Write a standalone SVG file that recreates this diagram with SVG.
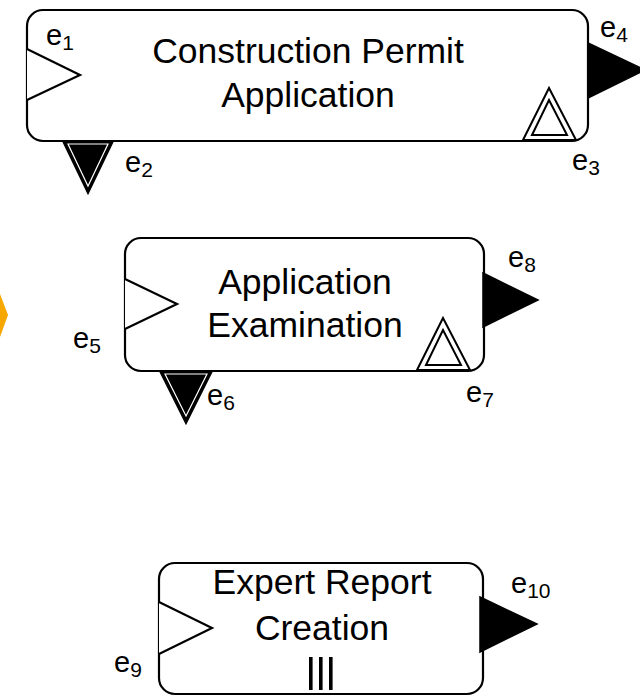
<svg xmlns="http://www.w3.org/2000/svg" width="640" height="697" viewBox="0 0 640 697">
  <style>
    .task { fill: #ffffff; stroke: #000000; stroke-width: 2.2; }
    .title { font-family: "Liberation Sans", Arial, sans-serif; font-size: 35.5px; fill: #000000; text-anchor: middle; }
    .lbl { font-family: "Liberation Sans", Arial, sans-serif; font-size: 29px; fill: #000000; }
    .sub { font-size: 21px; }
    .start { fill: #ffffff; stroke: #000000; stroke-width: 2.2; stroke-linejoin: miter; }
    .end { fill: #000000; stroke: #000000; stroke-width: 1.5; }
    .throw { fill: #000000; stroke: #000000; stroke-width: 2; }
    .throwIn { fill: #000000; stroke: #ffffff; stroke-width: 1.2; }
    .catch { fill: #ffffff; stroke: #000000; stroke-width: 2; }
    .gate { fill: #f6a700; }
  </style>

  <!-- partially visible gateway on the left edge -->
  <g id="gateway">
    <polygon class="gate" points="-20,294 0,294 8,315 0,337 -20,337"/>
  </g>

  <g id="connectors"></g>

  <!-- Construction Permit Application -->
  <g id="task1">
    <rect class="task" x="27" y="10" width="561" height="131" rx="16" ry="16"/>
    <text class="title" x="308" y="63">Construction Permit</text>
    <text class="title" x="308" y="107">Application</text>
    <g id="e1">
      <polyline class="start" points="27,49 80,75 27,100"/>
      <text class="lbl" x="46" y="45">e<tspan class="sub" dy="5">1</tspan></text>
    </g>
    <g id="e2">
      <polygon class="throw" points="63,141 113,141 88,193"/>
      <polygon class="throwIn" points="68,144 108,144 88,186"/>
      <text class="lbl" x="125" y="172">e<tspan class="sub" dy="5">2</tspan></text>
    </g>
    <g id="e3">
      <polygon class="catch" points="523,140 576,140 549,88"/>
      <polygon class="catch" points="532,135 567,135 549,100"/>
      <text class="lbl" x="572" y="170">e<tspan class="sub" dy="5">3</tspan></text>
    </g>
    <g id="e4">
      <polygon class="end" points="588,43 645,70 588,98"/>
      <text class="lbl" x="600" y="37">e<tspan class="sub" dy="5">4</tspan></text>
    </g>
  </g>

  <!-- Application Examination -->
  <g id="task2">
    <rect class="task" x="125" y="238" width="359" height="133" rx="16" ry="16"/>
    <text class="title" x="305" y="294">Application</text>
    <text class="title" x="305" y="337">Examination</text>
    <g id="e5">
      <polyline class="start" points="125,279 177,304 125,329"/>
      <text class="lbl" x="73" y="348">e<tspan class="sub" dy="5">5</tspan></text>
    </g>
    <g id="e6">
      <polygon class="throw" points="160,371 212,371 186,423"/>
      <polygon class="throwIn" points="165,374 207,374 186,416"/>
      <text class="lbl" x="207" y="405">e<tspan class="sub" dy="5">6</tspan></text>
    </g>
    <g id="e7">
      <polygon class="catch" points="417,370 470,370 443,318"/>
      <polygon class="catch" points="426,365 461,365 443,330"/>
      <text class="lbl" x="466" y="402">e<tspan class="sub" dy="5">7</tspan></text>
    </g>
    <g id="e8">
      <polygon class="end" points="483,273 538,300 483,327"/>
      <text class="lbl" x="508" y="267">e<tspan class="sub" dy="5">8</tspan></text>
    </g>
  </g>

  <!-- Expert Report Creation (multi-instance) -->
  <g id="task3">
    <rect class="task" x="159" y="563" width="324" height="131" rx="16" ry="16"/>
    <text class="title" x="322" y="594">Expert Report</text>
    <text class="title" x="322" y="640">Creation</text>
    <g id="multi">
      <rect x="309" y="657" width="3.6" height="33" fill="#000"/>
      <rect x="319" y="657" width="3.6" height="33" fill="#000"/>
      <rect x="329" y="657" width="3.6" height="33" fill="#000"/>
    </g>
    <g id="e9">
      <polyline class="start" points="159,602 212,628 159,654"/>
      <text class="lbl" x="114" y="672">e<tspan class="sub" dy="5">9</tspan></text>
    </g>
    <g id="e10">
      <polygon class="end" points="480,597 537,624 480,652"/>
      <text class="lbl" x="511" y="593">e<tspan class="sub" dy="5">10</tspan></text>
    </g>
  </g>
</svg>
